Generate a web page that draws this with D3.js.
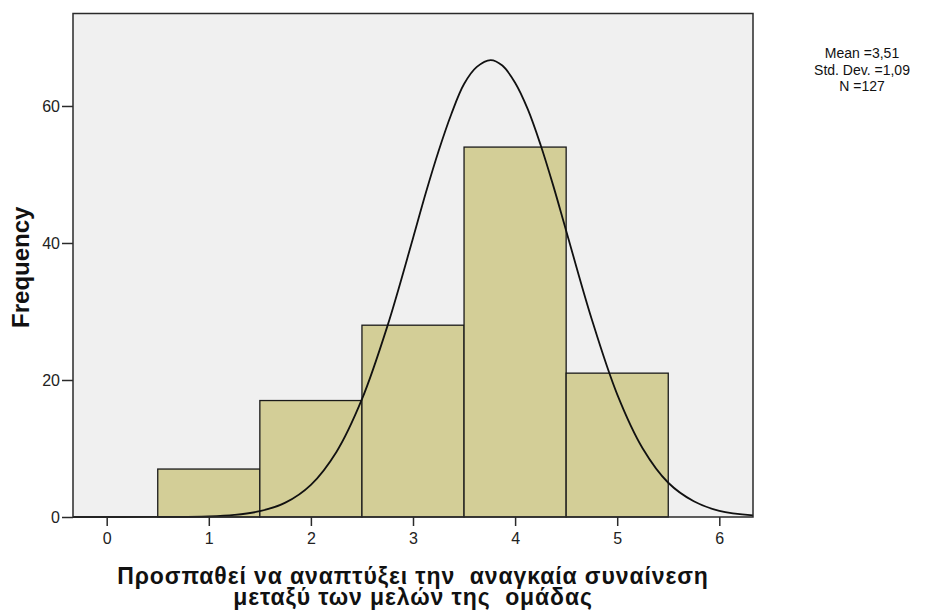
<!DOCTYPE html>
<html>
<head>
<meta charset="utf-8">
<script src="https://cdn.jsdelivr.net/npm/d3@7"></script>
<style>
    html, body { margin: 0; padding: 0; background: #ffffff; }
    svg { display: block; }
    text { font-family: "Liberation Sans", Arial, sans-serif; }
</style>
</head>
<body>
<svg id="chart"></svg>
<script>
// histogram categories and counts
const categories = [1, 2, 3, 4, 5];
const counts = [7, 17, 28, 54, 21];

// axis ticks
const xTicks = [0, 1, 2, 3, 4, 5, 6];
const yTicks = [0, 20, 40, 60];

// normal curve, points
const curveX = [-0.33, 0.5, 1.0, 1.25, 1.5, 1.75, 2.0, 2.25, 2.5, 2.75, 3.0, 3.125, 3.25, 3.375, 3.5, 3.625, 3.76,
    3.875, 4.0, 4.125, 4.25, 4.375, 4.5, 4.75, 5.0, 5.25, 5.5, 5.75, 6.0, 6.33];
const curveY = [0, 0.01, 0.1, 0.31, 0.85, 2.1, 4.7, 9.5, 17.2, 27.9, 40.7, 47.3, 53.4, 58.8, 63.2, 65.7, 66.7,
    65.9, 63.4, 59.5, 54.3, 48.3, 41.8, 28.9, 17.9, 10.0, 5.0, 2.3, 0.9, 0.24];

// texts
const statLines = ["Mean =3,51", "Std. Dev. =1,09", "N =127"];
const xTitleLines = ["Προσπαθεί να αναπτύξει την  αναγκαία συναίνεση", "μεταξύ των μελών της  ομάδας"];
const yTitle = "Frequency";

const width = 937, height = 610;
const plot = { left: 73, top: 13.5, right: 753, bottom: 517 };

const svg = d3.select("#chart")
    .attr("width", width)
    .attr("height", height);

// scales
const x = d3.scaleLinear()
    .domain([-0.33, 6.33])
    .range([plot.left, plot.right]);

const y = d3.scaleLinear()
    .domain([0, 73.5])
    .range([plot.bottom, plot.top]);

// plot background
svg.append("rect")
    .attr("x", plot.left)
    .attr("y", plot.top)
    .attr("width", plot.right - plot.left)
    .attr("height", plot.bottom - plot.top)
    .style("fill", "#f0f0f0");

// bars
svg.selectAll(".bar")
    .data(categories)
    .enter()
    .append("rect")
    .attr("class", "bar")
    .attr("x", d => x(d - 0.5))
    .attr("y", (d, i) => y(counts[i]))
    .attr("width", d => x(d + 0.5) - x(d - 0.5))
    .attr("height", (d, i) => y(0) - y(counts[i]))
    .style("fill", "#d3ce97")
    .style("stroke", "#1a1a1a")
    .style("stroke-width", 1.3);

// normal curve
const line = d3.line()
    .x(d => x(d[0]))
    .y(d => y(d[1]))
    .curve(d3.curveCatmullRom);

svg.append("path")
    .datum(curveX.map((v, i) => [v, curveY[i]]))
    .attr("d", line)
    .style("fill", "none")
    .style("stroke", "#111111")
    .style("stroke-width", 1.8);

// frame
svg.append("rect")
    .attr("x", plot.left)
    .attr("y", plot.top)
    .attr("width", plot.right - plot.left)
    .attr("height", plot.bottom - plot.top)
    .style("fill", "none")
    .style("stroke", "#2a2a2a")
    .style("stroke-width", 1.5);

// axes
const xAxis = svg.append("g")
    .attr("transform", `translate(0,${plot.bottom})`)
    .call(d3.axisBottom(x).tickValues(xTicks).tickSize(9).tickPadding(7).tickFormat(d3.format("d")));

const yAxis = svg.append("g")
    .attr("transform", `translate(${plot.left},0)`)
    .call(d3.axisLeft(y).tickValues(yTicks).tickSize(11).tickPadding(2).tickFormat(d3.format("d")));

[xAxis, yAxis].forEach(axis => {
    axis.select(".domain").remove();
    axis.selectAll(".tick line").style("stroke", "#2a2a2a").style("stroke-width", 1.5);
    axis.selectAll(".tick text")
        .style("font-family", "'Liberation Sans', Arial, sans-serif")
        .style("font-size", "16px")
        .style("fill", "#222222");
});

// axis titles
svg.append("text")
    .attr("transform", `translate(29,${(plot.top + plot.bottom) / 2 + 2}) rotate(-90)`)
    .attr("text-anchor", "middle")
    .style("font-size", "24px")
    .style("font-weight", "bold")
    .style("fill", "#111111")
    .text(yTitle);

svg.selectAll(".xTitle")
    .data(xTitleLines)
    .enter()
    .append("text")
    .attr("class", "xTitle")
    .attr("x", (plot.left + plot.right) / 2)
    .attr("y", (d, i) => 584 + i * 21)
    .attr("text-anchor", "middle")
    .style("font-size", "23px")
    .style("font-weight", "bold")
    .style("letter-spacing", "0.9px")
    .style("fill", "#111111")
    .style("white-space", "pre")
    .text(d => d);

// statistics box
svg.selectAll(".stat")
    .data(statLines)
    .enter()
    .append("text")
    .attr("class", "stat")
    .attr("x", 862)
    .attr("y", (d, i) => 58 + i * 16.5)
    .attr("text-anchor", "middle")
    .style("font-size", "14px")
    .style("fill", "#111111")
    .text(d => d);
</script>
</body>
</html>
